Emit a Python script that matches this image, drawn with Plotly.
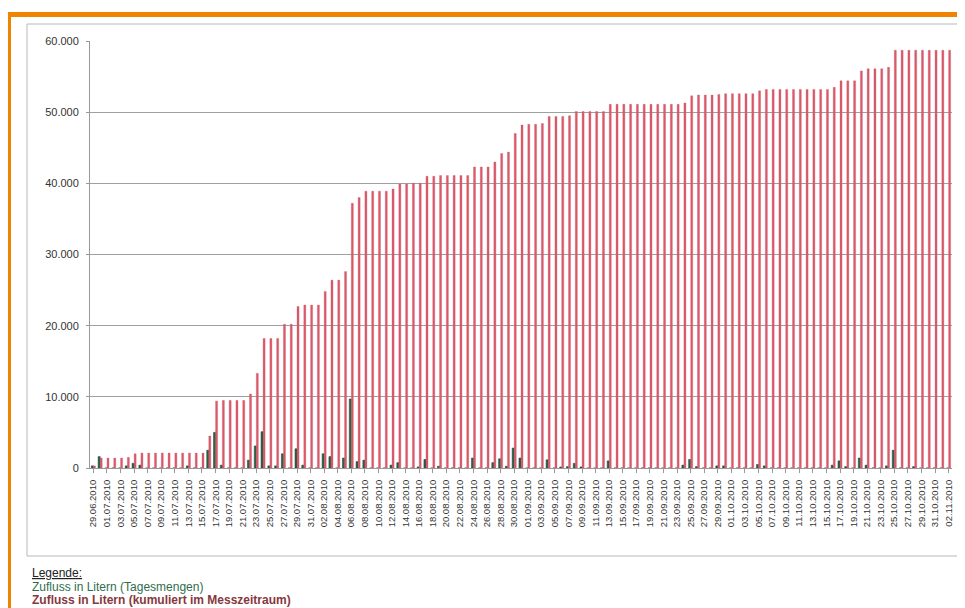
import pandas as pd
import plotly.graph_objects as go

# ---- data ----
dates = [d.strftime("%d.%m.%Y") for d in pd.date_range("2010-06-29", "2010-11-02", freq="D")]

daily = [
    300, 1600, 0, 0, 0, 300, 650, 400, 0, 0,
    0, 0, 0, 0, 300, 0, 0, 2500, 5000, 400,
    0, 0, 0, 1100, 3100, 5100, 300, 300, 2000, 0,
    2700, 400, 0, 0, 2000, 1600, 0, 1400, 9700, 900,
    1100, 0, 0, 0, 400, 750, 0, 0, 150, 1200,
    0, 250, 0, 0, 0, 0, 1400, 0, 0, 750,
    1300, 250, 2800, 1400, 0, 0, 0, 1150, 0, 150,
    200, 650, 150, 0, 0, 0, 1000, 0, 0, 0,
    0, 0, 0, 0, 0, 0, 0, 400, 1200, 200,
    0, 0, 300, 300, 0, 0, 0, 0, 500, 300,
    0, 0, 0, 0, 0, 0, 0, 0, 0, 400,
    1000, 200, 0, 1400, 400, 0, 0, 300, 2500, 0,
    0, 200, 0, 0, 0, 0, 0,
]

cumulative = [
    300, 1400, 1400, 1400, 1400, 1500, 2000, 2100, 2100, 2100,
    2100, 2100, 2100, 2100, 2100, 2100, 2100, 4500, 9400, 9500,
    9500, 9500, 9500, 10400, 13300, 18200, 18200, 18200, 20200, 20200,
    22700, 22900, 22900, 22900, 24800, 26400, 26400, 27600, 37200, 38000,
    38900, 38900, 38900, 38900, 39200, 39900, 39900, 40000, 40000, 41000,
    41000, 41100, 41100, 41100, 41100, 41100, 42300, 42300, 42300, 43000,
    44200, 44400, 47000, 48200, 48300, 48300, 48400, 49400, 49400, 49400,
    49500, 50100, 50100, 50100, 50100, 50100, 51100, 51100, 51100, 51100,
    51100, 51100, 51100, 51100, 51100, 51100, 51100, 51300, 52300, 52400,
    52400, 52400, 52500, 52600, 52600, 52600, 52600, 52600, 53000, 53200,
    53200, 53200, 53200, 53200, 53200, 53200, 53200, 53200, 53200, 53500,
    54400, 54400, 54400, 55800, 56100, 56100, 56100, 56300, 58700, 58700,
    58700, 58700, 58700, 58700, 58700, 58700, 58700,
]

y_ticks = [0, 10000, 20000, 30000, 40000, 50000, 60000]
x_ticks = dates[::2]

legend_title = "Legende:"
name_daily = "Zufluss in Litern (Tagesmengen)"
name_cum = "Zufluss in Litern (kumuliert im Messzeitraum)"

# ---- layout helpers (page pixel -> paper); the page body adds an 8px offset ----
OFF = 8
W, H = 957, 600
L, R, T, B = 82, 13, 33, 140
PW, PH = W - L - R, H - T - B


def px(x):
    return (x - OFF - L) / PW


def py(y):
    return (H - B - (y - OFF)) / PH


fig = go.Figure()
fig.add_trace(go.Bar(
    x=dates, y=daily, name=name_daily,
    marker=dict(color="#22674a", line=dict(color="#163d2b", width=0.5)),
))
fig.add_trace(go.Bar(
    x=dates, y=cumulative, name=name_cum,
    marker=dict(color="#da5a6c", line=dict(color="#cc4a5c", width=0.3)),
))

shapes = [
    # orange page frame
    dict(type="rect", xref="paper", yref="paper", x0=px(4), x1=px(975), y0=py(12), y1=py(17),
         fillcolor="#f08300", line=dict(width=0), layer="above"),
    dict(type="rect", xref="paper", yref="paper", x0=px(4), x1=px(11), y0=py(12), y1=py(620),
         fillcolor="#f08300", line=dict(width=0), layer="above"),
    # gray chart box
    dict(type="rect", xref="paper", yref="paper", x0=px(27), x1=px(995), y0=py(24), y1=py(556),
         fillcolor="rgba(0,0,0,0)", line=dict(color="#b8b8b8", width=1), layer="below"),
]

annotations = [
    dict(text="<u>" + legend_title + "</u>", x=px(30), y=py(573), xref="paper", yref="paper",
         xanchor="left", yanchor="middle", showarrow=False,
         font=dict(size=12, color="#222222", family="Liberation Sans, Arial")),
    dict(text=name_daily, x=px(30), y=py(587), xref="paper", yref="paper",
         xanchor="left", yanchor="middle", showarrow=False,
         font=dict(size=12, color="#2e6e4c", family="Liberation Sans, Arial")),
    dict(text="<b>" + name_cum + "</b>", x=px(30), y=py(600), xref="paper", yref="paper",
         xanchor="left", yanchor="middle", showarrow=False,
         font=dict(size=12, color="#86383c", family="Liberation Sans, Arial")),
]

fig.update_layout(
    width=W, height=H,
    margin=dict(l=L, r=R, t=T, b=B),
    paper_bgcolor="white", plot_bgcolor="white",
    barmode="group", bargap=0.4, bargroupgap=0,
    showlegend=False,
    separators=",.",
    font=dict(family="Liberation Sans, Arial", color="#333333"),
    shapes=shapes, annotations=annotations,
    xaxis=dict(
        type="category", tickmode="array", tickvals=x_ticks, ticktext=x_ticks,
        tickangle=-90, tickfont=dict(size=9.5, color="#333333"),
        showline=True, linecolor="#999999", linewidth=1,
        ticks="outside", ticklen=4, tickcolor="#999999", ticklabelstandoff=3,
        showgrid=False, range=[-0.5, len(dates) - 0.5],
    ),
    yaxis=dict(
        range=[0, 60000], tickmode="array", tickvals=y_ticks,
        tickformat=",.0f", tickfont=dict(size=11, color="#333333"),
        showline=True, linecolor="#999999", linewidth=1,
        ticks="outside", ticklen=3, tickcolor="#999999", ticklabelstandoff=5,
        showgrid=True, gridcolor="#a0a0a0", gridwidth=1,
        zeroline=False,
    ),
)

fig.write_html("out.html")
